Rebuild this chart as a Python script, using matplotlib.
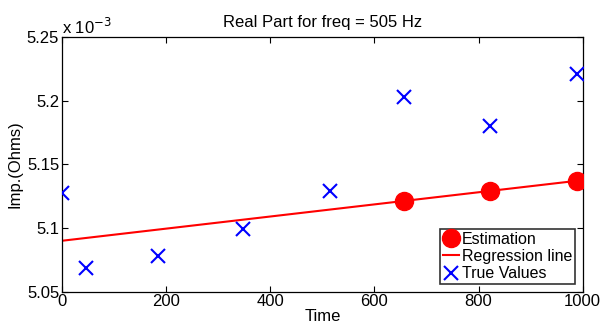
import matplotlib
matplotlib.use("Agg")
import matplotlib.pyplot as plt
from matplotlib.ticker import FuncFormatter

# Data (Ohms)
true_t = [0, 46, 185, 347, 515, 656, 822, 990]
true_vals = [5.1274e-3, 5.0687e-3, 5.0777e-3, 5.0989e-3, 5.1292e-3, 5.2025e-3, 5.1802e-3, 5.2207e-3]
est_t = [656, 822, 990]
est_vals = [5.1213e-3, 5.1292e-3, 5.1371e-3]
reg_t = [0, 1000]
reg_vals = [5.0900e-3, 5.1376e-3]

xticks = [0, 200, 400, 600, 800, 1000]
yticks = [5.05e-3, 5.10e-3, 5.15e-3, 5.20e-3, 5.25e-3]

plt.rcParams['font.family'] = ['Liberation Sans', 'DejaVu Sans']
FS = 12

fig = plt.figure(figsize=(6.02, 3.27), dpi=100)
ax = fig.add_axes([62/602, 1-291.7/327, (582.7-62)/602, (291.7-37)/327])

ax.plot(est_t, est_vals, 'o', color='red', markersize=13, label='Estimation', zorder=3)
ax.plot(reg_t, reg_vals, '-', color='red', linewidth=1.5, label='Regression line', zorder=2)
ax.plot(true_t, true_vals, 'x', color='blue', markersize=10, markeredgewidth=1.5,
        label='True Values', linestyle='none', zorder=3)

ax.set_xlim(0, 1000)
ax.set_ylim(5.05e-3, 5.25e-3)
ax.set_xticks(xticks)
ax.set_yticks(yticks)
ax.yaxis.set_major_formatter(FuncFormatter(lambda v, p: ('%.2f' % (v*1e3)).rstrip('0')))
ax.tick_params(direction='in', top=True, right=True, labelsize=FS, length=4, width=0.8, pad=2)
for s in ax.spines.values():
    s.set_linewidth(0.9)

ax.set_title('Real Part for freq = 505 Hz', fontsize=FS, pad=7)
ax.set_xlabel('Time', fontsize=FS, labelpad=0)
ax.set_ylabel('Imp.(Ohms)', fontsize=FS, labelpad=3)
ax.text(0.0, 1.0, r'x 10$^{-3}$', transform=ax.transAxes, fontsize=FS,
        ha='left', va='bottom')

leg = ax.legend(loc='lower right', fontsize=11.5, frameon=True, fancybox=False,
                edgecolor='black', borderaxespad=0.5, handlelength=1.0,
                handletextpad=0.2, borderpad=0.15, labelspacing=0.15)
leg.get_frame().set_linewidth(1.2)

fig.savefig('out.png', dpi=100)
